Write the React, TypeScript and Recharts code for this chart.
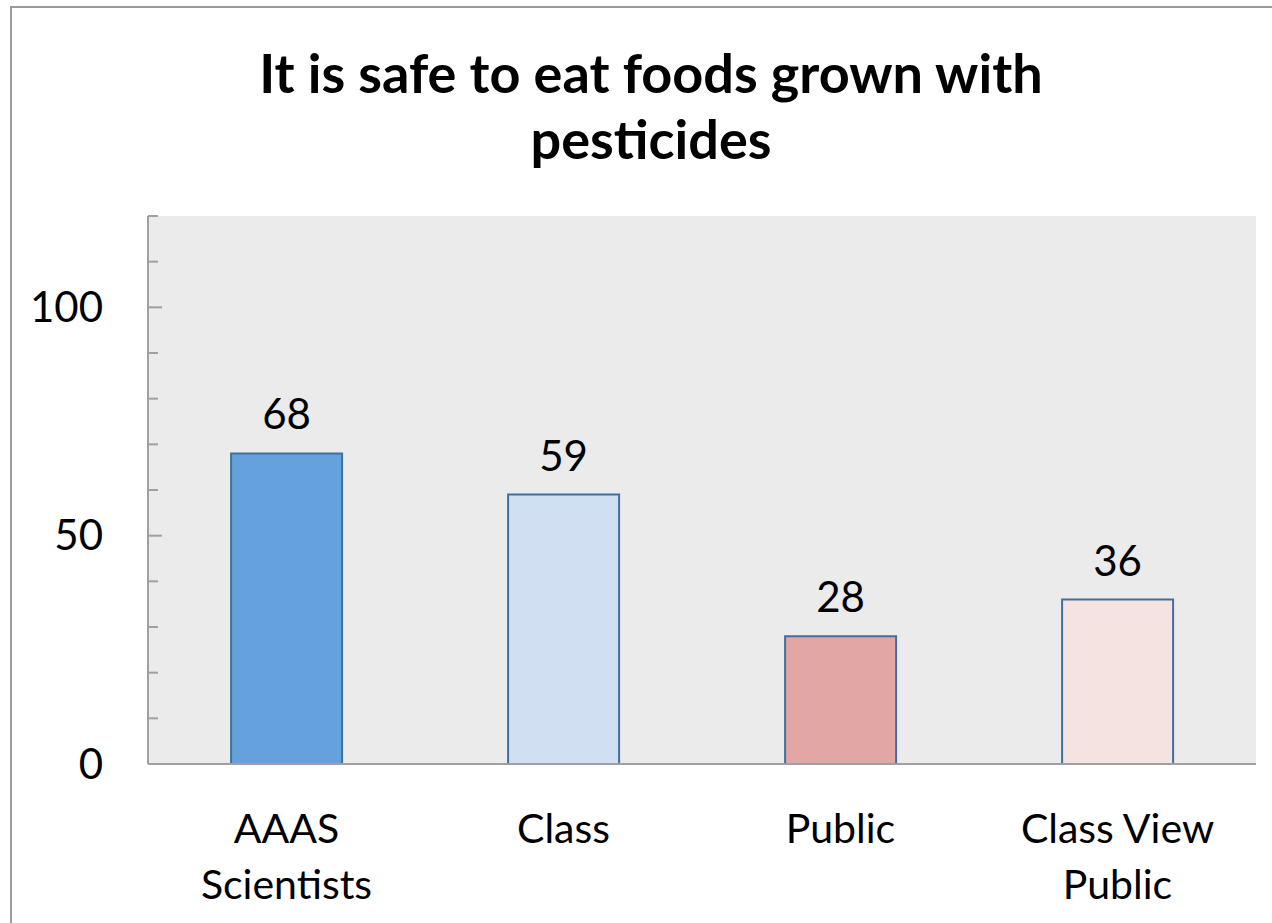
import React from 'react';
import { Bar, BarChart, CartesianGrid, Cell, LabelList, XAxis, YAxis } from 'recharts';

const categories = ['AAAS\nScientists', 'Class', 'Public', 'Class View\nPublic'];
const values = [68, 59, 28, 36];
const barColors = ['#65A1DD', '#D0E0F2', '#E2A6A4', '#F5E3E1'];
const yTicks = [0, 10, 20, 30, 40, 50, 60, 70, 80, 90, 100, 110, 120];
const yLabels = [0, 50, 100];

const data = categories.map((c, i) => ({ name: c, value: values[i] }));

const FONT = 'Lato, "Open Sans", sans-serif';

const YTick = (props: any) => {
    const { x, y, payload } = props;
    const major = yLabels.includes(payload.value);
    return (
        <g>
            <line x1={x} x2={x + (major ? 14 : 10)} y1={y} y2={y} stroke="#A0A0A0" strokeWidth={2} />
            {major && (
                <text x={x - 45} y={y} dy="0.35em" textAnchor="end" fontSize={42} fill="#000" fontFamily={FONT}>
                    {payload.value}
                </text>
            )}
        </g>
    );
};

const XTick = (props: any) => {
    const { x, y, payload } = props;
    const lines = String(payload.value).split('\n');
    return (
        <text x={x} y={y} textAnchor="middle" fontSize={41} fill="#000" fontFamily={FONT}>
            {lines.map((l, i) => (
                <tspan key={i} x={x} dy={i === 0 ? 71 : 56}>
                    {l}
                </tspan>
            ))}
        </text>
    );
};

const App: React.FC = () => {
    return (
        <div style={{ position: 'absolute', left: 0, top: 0, width: 1272, height: 923, background: '#fff', overflow: 'hidden' }}>
            <div
                style={{
                    position: 'absolute',
                    left: 10,
                    top: 6,
                    width: 1300,
                    height: 1000,
                    borderLeft: '2px solid #9A9A9A',
                    borderTop: '2px solid #9A9A9A'
                }}
            />
            <div
                style={{
                    position: 'absolute',
                    left: 151,
                    width: 1000,
                    top: 40,
                    textAlign: 'center',
                    fontFamily: FONT,
                    fontWeight: 700,
                    fontSize: 54,
                    lineHeight: '66px',
                    color: '#000'
                }}
            >
                It is safe to eat foods grown with
                <br />
                pesticides
            </div>
            <div style={{ position: 'absolute', left: 0, top: 0 }}>
                <BarChart
                    width={1272}
                    height={923}
                    data={data}
                    margin={{ top: 216, right: 16, left: 0, bottom: 0 }}
                    barCategoryGap="30%"
                >
                    <CartesianGrid fill="#EBEBEB" stroke="none" horizontal={false} vertical={false} />
                    <XAxis
                        dataKey="name"
                        axisLine={{ stroke: '#A0A0A0', strokeWidth: 2 }}
                        tickLine={false}
                        tick={<XTick />}
                        interval={0}
                        height={159}
                    />
                    <YAxis
                        width={148}
                        domain={[0, 120]}
                        ticks={yTicks}
                        interval={0}
                        axisLine={{ stroke: '#A0A0A0', strokeWidth: 2 }}
                        tickLine={false}
                        tickSize={0}
                        tickMargin={0}
                        tick={<YTick />}
                    />
                    <Bar dataKey="value" stroke="#41709E" strokeWidth={2} isAnimationActive={false}>
                        {data.map((d, i) => (
                            <Cell key={d.name} fill={barColors[i]} />
                        ))}
                        <LabelList
                            dataKey="value"
                            position="top"
                            offset={24}
                            fontSize={42}
                            fill="#000"
                            fontFamily={FONT}
                        />
                    </Bar>
                </BarChart>
            </div>
        </div>
    );
};

export default App;
